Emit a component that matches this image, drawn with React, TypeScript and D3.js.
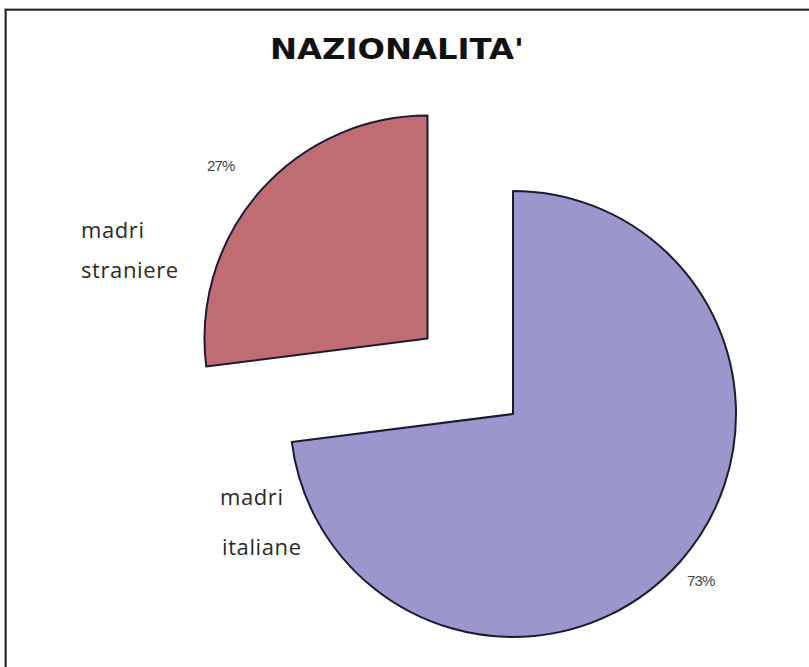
import React from "react";
import * as d3 from "d3";

const categories = ["madri italiane", "madri straniere"];
const values = [73, 27];
const percentLabels = ["73%", "27%"];
const colors = ["#9b96cc", "#bf6d72"];
const title = "NAZIONALITA'";

const W = 809;
const H = 667;

export default function App() {
  const cx = 513;
  const cy = 414;
  const r = 223;
  const explode = 114;

  const pie = d3.pie<number>().sort(null).startAngle(0).endAngle(2 * Math.PI);
  const arcs = pie(values);
  const arcGen = d3.arc<d3.PieArcDatum<number>>().innerRadius(0).outerRadius(r);

  const offsets = arcs.map((a, i) => {
    if (i === 0) return [0, 0];
    const mid = (a.startAngle + a.endAngle) / 2;
    return [Math.sin(mid) * explode, -Math.cos(mid) * explode];
  });

  return (
    <svg
      width={W}
      height={H}
      style={{ position: "absolute", left: 0, top: 0, background: "#fff" }}
    >
      <rect x={0} y={0} width={W} height={H} fill="#fff" />
      {/* frame */}
      <line x1={4} y1={8.5} x2={W} y2={8.5} stroke="#b0b0b0" strokeWidth={1} />
      <line x1={4.5} y1={8} x2={4.5} y2={H} stroke="#b0b0b0" strokeWidth={1} />
      <line x1={5.5} y1={9.8} x2={W} y2={9.8} stroke="#222" strokeWidth={1.8} />
      <line x1={5.8} y1={9} x2={5.8} y2={H} stroke="#222" strokeWidth={1.8} />

      <text
        x={397}
        y={59}
        textAnchor="middle"
        fontFamily="DejaVu Sans"
        fontWeight="bold"
        fontSize={29}
        textLength={254}
        lengthAdjust="spacingAndGlyphs"
        fill="#111"
      >
        {title}
      </text>

      {arcs.map((a, i) => (
        <path
          key={categories[i]}
          d={arcGen(a) || ""}
          transform={`translate(${cx + offsets[i][0]},${cy + offsets[i][1]})`}
          fill={colors[i]}
          stroke="#1c1a33"
          strokeWidth={2}
          strokeLinejoin="round"
        />
      ))}

      <text x={207} y={171} fontFamily="Liberation Sans Narrow, Liberation Sans" fontSize={15} fill="#444" letterSpacing={-0.8}>
        {percentLabels[1]}
      </text>
      <text x={687} y={586} fontFamily="Liberation Sans Narrow, Liberation Sans" fontSize={15} fill="#444" letterSpacing={-0.8}>
        {percentLabels[0]}
      </text>

      <g fontFamily="Open Sans" fontSize={22} fill="#2a2a2a" letterSpacing={0.6}>
        <text x={81} y={238}>madri</text>
        <text x={81} y={278}>straniere</text>
        <text x={220} y={505}>madri</text>
        <text x={222} y={555}>italiane</text>
      </g>
    </svg>
  );
}
